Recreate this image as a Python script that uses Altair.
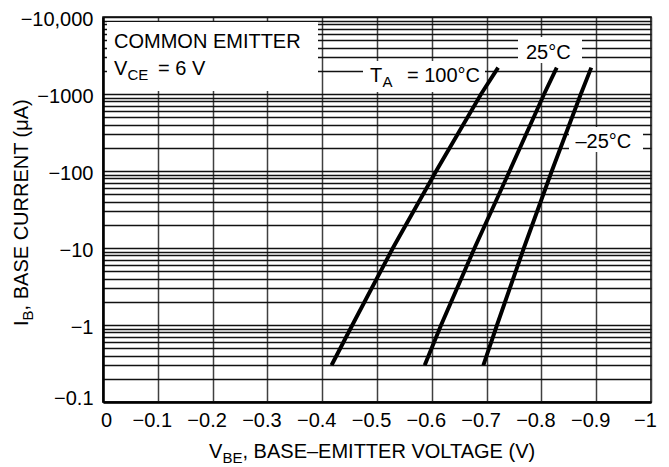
import altair as alt
import pandas as pd

# ---------------- data ----------------
IB_UA = [0.3, 1, 10, 100, 1000, 2200]                    # base current magnitude, uA
VBE_100C = [-0.417, -0.455, -0.529, -0.608, -0.690, -0.721]
VBE_25C = [-0.587, -0.617, -0.678, -0.742, -0.805, -0.828]
VBE_M25C = [-0.694, -0.719, -0.768, -0.819, -0.872, -0.891]
SERIES = {"100": VBE_100C, "25": VBE_25C, "-25": VBE_M25C}

X_TICKS = [0, -0.1, -0.2, -0.3, -0.4, -0.5, -0.6, -0.7, -0.8, -0.9, -1.0]
Y_DECADES = [0.1, 1, 10, 100, 1000, 10000]
Y_GRID = [round(d * k, 4) for d in Y_DECADES[:-1] for k in range(1, 10)] + [10000]

rows = []
for name, vbe in SERIES.items():
    for i, (v, ib) in enumerate(zip(vbe, IB_UA)):
        rows.append({"series": name, "vbe": v, "ib": ib, "ord": i})
df = pd.DataFrame(rows)

FONT = "Liberation Sans"
FS = 20
FS_SUB = 15
W, H = 548, 385

one = pd.DataFrame({"k": [0]})


def box(x1, x2, y1, y2):
    return alt.Chart(one).mark_rect(color="white", opacity=1).encode(
        x=alt.value(x1), x2=alt.value(x2), y=alt.value(y1), y2=alt.value(y2)
    )


def txt(s, x, y, size=FS, angle=0, align="left"):
    kw = dict(font=FONT, fontSize=size, color="black", align=align, baseline="alphabetic")
    if angle:
        kw["angle"] = angle
    return alt.Chart(one).mark_text(**kw).encode(
        x=alt.value(x), y=alt.value(y), text=alt.value(s)
    )


x_axis = alt.Axis(
    values=X_TICKS, title=None, grid=True, gridColor="#404040", gridWidth=1.5,
    ticks=False, tickSize=0, domainColor="black", domainWidth=2.5,
    labelFont=FONT, labelFontSize=FS, labelColor="black", labelPadding=8,
    labelFlush=False, labelOverlap=False,
    labelExpr="datum.value == 0 ? '0' : '\u2212' + (-datum.value)",
    labelOffset={"condition": {"test": "datum.value == 0", "value": 3}, "value": -6},
)
y_axis = alt.Axis(
    values=Y_GRID, title=None, grid=True, gridColor="#111111", gridWidth=1.3,
    ticks=False, tickSize=0, domainColor="black", domainWidth=2.5,
    labelFont=FONT, labelFontSize=FS, labelColor="black", labelPadding=10,
    labelFlush=False, labelOverlap=False,
    labelExpr="datum.value == 10000 ? '\u221210,000' : (indexof([0.1, 1, 10, 100, 1000], datum.value) >= 0 ? '\u2212' + datum.value : '')",
    labelOffset={"condition": {"test": "datum.value == 0.1", "value": -4}, "value": 2},
)

lines = alt.Chart(df).mark_line(color="black", strokeWidth=3.9, strokeCap="butt").encode(
    x=alt.X("vbe:Q", scale=alt.Scale(domain=[-1, 0], reverse=True, nice=False, zero=False), axis=x_axis),
    y=alt.Y("ib:Q", scale=alt.Scale(type="log", domain=[0.1, 10000], nice=False), axis=y_axis),
    detail="series:N",
    order="ord:Q",
)

layers = [
    box(4, 215, 5, 74),
    box(260, 382, 44, 75),
    box(415, 479, 20, 46),
    box(466, 540, 110, 135),
    txt("COMMON EMITTER", 11, 31),
    txt("V", 11, 58),
    txt("CE", 24.5, 63, FS_SUB),
    txt("= 6 V", 55, 58),
    txt("T", 267, 64.7),
    txt("A", 279.5, 70, FS_SUB),
    txt("= 100\u00b0C", 304, 64.7),
    txt("25\u00b0C", 423, 42.3),
    txt("\u201325\u00b0C", 472.5, 131.3),
    # x-axis title
    txt("V", 106, 441),
    txt("BE", 119.5, 446, FS_SUB),
    txt(", BASE\u2013EMITTER VOLTAGE (V)", 139.5, 441),
    # y-axis title (rotated)
    txt("I", -75, 309, angle=270),
    txt("B", -70.5, 303.4, FS_SUB, angle=270),
    txt(", BASE CURRENT (\u03bcA)", -75, 293.4, angle=270),
    lines,
]

chart = alt.layer(*layers).properties(
    width=W, height=H,
    padding={"left": 95, "top": 9, "right": 8, "bottom": 64},
    autosize=alt.AutoSizeParams(type="none"),
).configure_view(stroke="black", strokeWidth=1.5)

chart.save("out.html", embed_options={"renderer": "svg", "actions": False})
